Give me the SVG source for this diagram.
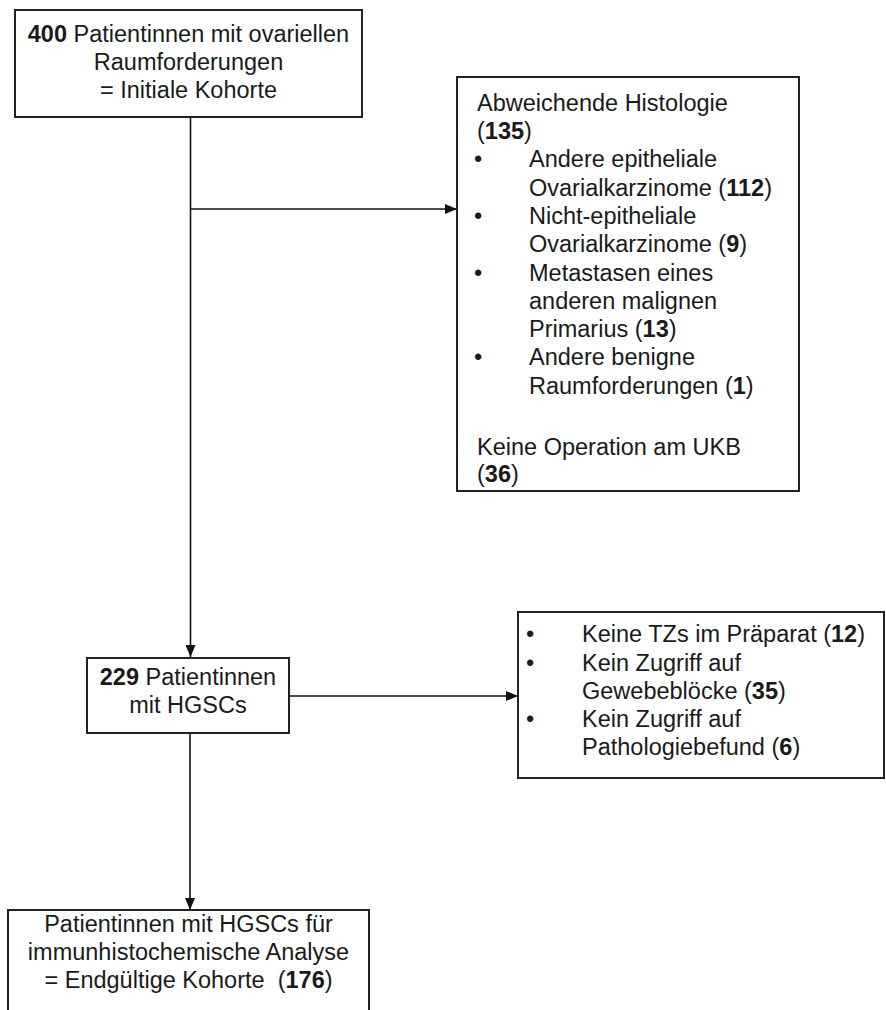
<svg xmlns="http://www.w3.org/2000/svg" width="886" height="1010" viewBox="0 0 886 1010">
<defs>
<marker id="arr" viewBox="0 0 12 10" refX="12" refY="5" markerWidth="12" markerHeight="10" markerUnits="userSpaceOnUse" orient="auto">
<path d="M0,0 L12,5 L0,10 Z" fill="#111"/>
</marker>
<style>
.box{fill:#fff;stroke:#222;stroke-width:2}
.t{font-family:"Liberation Sans",Arial,sans-serif;font-size:23.5px;fill:#1a1a1a}
.c{text-anchor:middle}
.b{font-weight:bold}
.ln{fill:none;stroke:#111;stroke-width:1.6}
</style>
</defs>
<rect width="886" height="1010" fill="#fff"/>
<g id="connectors">
<line class="ln" x1="190.5" y1="117" x2="190.5" y2="657" marker-end="url(#arr)"/>
<line class="ln" x1="190.5" y1="209" x2="457" y2="209" marker-end="url(#arr)"/>
<line class="ln" x1="289" y1="696" x2="518" y2="696" marker-end="url(#arr)"/>
<line class="ln" x1="190" y1="733" x2="190" y2="910" marker-end="url(#arr)"/>
</g>
<g id="node-initial">
<rect class="box" x="15" y="10" width="347" height="107"/>
<text class="t c" x="188.5" y="42"><tspan class="b">400</tspan> Patientinnen mit ovariellen</text>
<text class="t c" x="188.5" y="70">Raumforderungen</text>
<text class="t c" x="188.5" y="98">= Initiale Kohorte</text>
</g>
<g id="node-excluded1">
<rect class="box" x="457" y="77" width="342" height="414"/>
<text class="t" x="477" y="111">Abweichende Histologie</text>
<text class="t" x="477" y="139">(<tspan class="b">135</tspan>)</text>
<text class="t" x="474" y="167">•</text>
<text class="t" x="529" y="167">Andere epitheliale</text>
<text class="t" x="529" y="196">Ovarialkarzinome (<tspan class="b">112</tspan>)</text>
<text class="t" x="474" y="224">•</text>
<text class="t" x="529" y="224">Nicht-epitheliale</text>
<text class="t" x="529" y="252">Ovarialkarzinome (<tspan class="b">9</tspan>)</text>
<text class="t" x="474" y="281">•</text>
<text class="t" x="529" y="281">Metastasen eines</text>
<text class="t" x="529" y="309">anderen malignen</text>
<text class="t" x="529" y="337">Primarius (<tspan class="b">13</tspan>)</text>
<text class="t" x="474" y="365">•</text>
<text class="t" x="529" y="365">Andere benigne</text>
<text class="t" x="529" y="394">Raumforderungen (<tspan class="b">1</tspan>)</text>
<text class="t" x="477" y="455">Keine Operation am UKB</text>
<text class="t" x="477" y="482">(<tspan class="b">36</tspan>)</text>
</g>
<g id="node-hgsc">
<rect class="box" x="87" y="658" width="202" height="75"/>
<text class="t c" x="188" y="685"><tspan class="b">229</tspan> Patientinnen</text>
<text class="t c" x="188" y="713">mit HGSCs</text>
</g>
<g id="node-excluded2">
<rect class="box" x="518" y="612" width="366" height="166"/>
<text class="t" x="526" y="642">•</text>
<text class="t" x="582" y="642">Keine TZs im Präparat (<tspan class="b">12</tspan>)</text>
<text class="t" x="526" y="671">•</text>
<text class="t" x="582" y="671">Kein Zugriff auf</text>
<text class="t" x="582" y="699">Gewebeblöcke (<tspan class="b">35</tspan>)</text>
<text class="t" x="526" y="727">•</text>
<text class="t" x="582" y="727">Kein Zugriff auf</text>
<text class="t" x="582" y="755">Pathologiebefund (<tspan class="b">6</tspan>)</text>
</g>
<g id="node-final">
<rect class="box" x="8" y="910" width="361" height="120"/>
<text class="t c" x="188.5" y="932">Patientinnen mit HGSCs für</text>
<text class="t c" x="188.5" y="960">immunhistochemische Analyse</text>
<text class="t c" x="188.5" y="988" xml:space="preserve">= Endgültige Kohorte  (<tspan class="b">176</tspan>)</text>
</g>
</svg>
